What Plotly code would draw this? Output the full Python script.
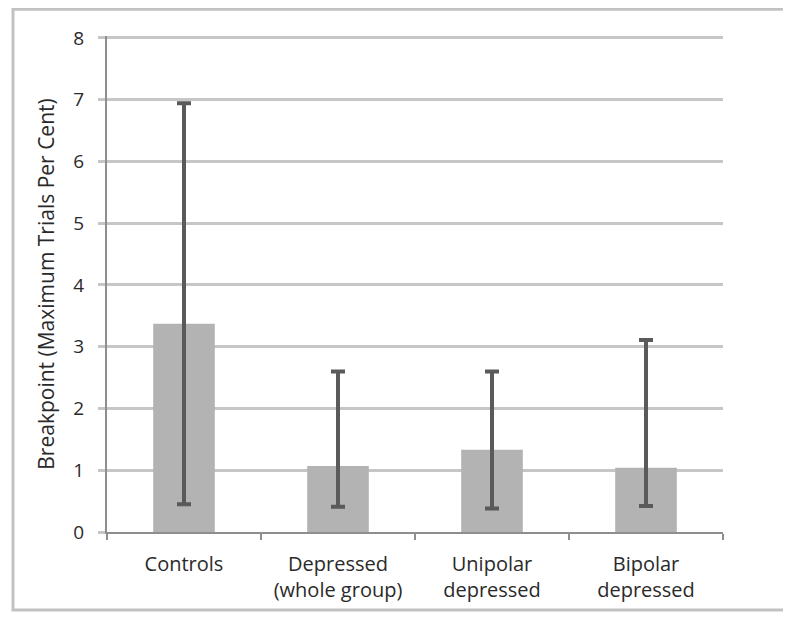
import plotly.graph_objects as go

categories = ["Controls", "Depressed<br>(whole group)", "Unipolar<br>depressed", "Bipolar<br>depressed"]
means = [3.37, 1.07, 1.33, 1.04]
upper = [6.94, 2.60, 2.60, 3.11]
lower = [0.45, 0.41, 0.38, 0.42]
y_ticks = [0, 1, 2, 3, 4, 5, 6, 7, 8]

err_plus = [u - m for u, m in zip(upper, means)]
err_minus = [m - l for m, l in zip(means, lower)]

FONT = "Open Sans"
GRID = "#c6c6c6"
AXIS = "#8e8e8e"
TXT = "#2a2a2a"

fig = go.Figure()
fig.add_trace(go.Bar(
    x=categories, y=means,
    marker=dict(color="#b3b3b3", line=dict(width=0)),
    width=0.4,
    error_y=dict(type="data", symmetric=False, array=err_plus, arrayminus=err_minus,
                 color="#5a5a5a", thickness=4, width=7),
    showlegend=False,
))

fig.update_layout(
    width=775, height=607,
    margin=dict(l=99, r=60, t=28, b=80),
    paper_bgcolor="white", plot_bgcolor="white",
    font=dict(family=FONT, size=19, color=TXT),
    xaxis=dict(
        type="category", showgrid=False, showline=True, linecolor=AXIS, linewidth=2,
        ticks="outside", tickson="boundaries", ticklen=6, tickcolor=AXIS, tickwidth=2,
        ticklabelstandoff=13,
        tickfont=dict(family=FONT, size=20, color=TXT),
    ),
    yaxis=dict(
        range=[0, 8.03], tickvals=y_ticks, showgrid=True, gridcolor=GRID, gridwidth=3,
        showline=True, linecolor=AXIS, linewidth=2, zeroline=False,
        ticks="outside", ticklen=7, tickcolor=GRID, tickwidth=3,
        ticklabelstandoff=10,
        tickfont=dict(family=FONT, size=19, color=TXT),
        title=dict(text="Breakpoint (Maximum Trials Per Cent)", font=dict(family=FONT, size=21, color=TXT), standoff=13),
    ),
    shapes=[dict(type="rect", xref="paper", yref="paper",
                 x0=-0.1526, x1=1.5, y0=-0.1573, y1=1.054,
                 line=dict(color="#c2c2c2", width=3), fillcolor="rgba(0,0,0,0)", layer="below")],
)

fig.write_html("out.html")
